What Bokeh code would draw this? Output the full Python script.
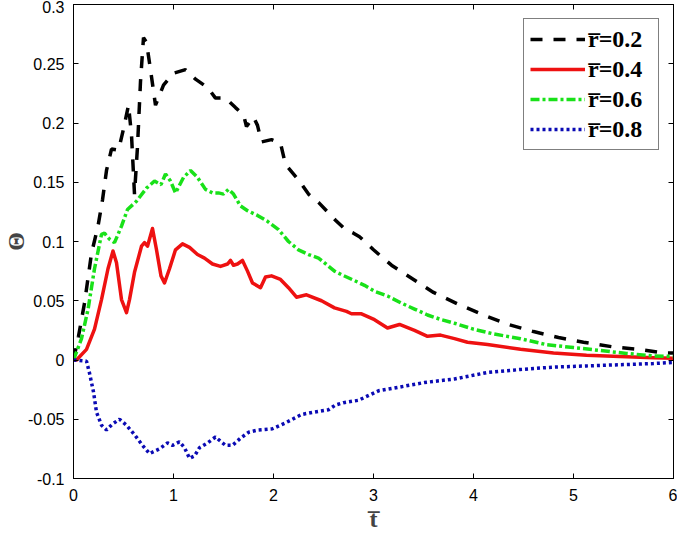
from bokeh.plotting import figure
from bokeh.models import Range1d, LinearAxis, FixedTicker, Legend, LegendItem
from bokeh.embed import file_html
from bokeh.resources import INLINE

# ---- data ----
t_k = [0, 0.05, 0.11, 0.18, 0.245, 0.29, 0.33, 0.38, 0.45, 0.5, 0.55, 0.58, 0.61, 0.64, 0.67,
       0.7, 0.73, 0.77, 0.82, 0.9, 1.0, 1.12, 1.22, 1.34, 1.42, 1.52, 1.62, 1.7, 1.73, 1.8,
       1.84, 1.88, 1.98, 2.07, 2.12, 2.25, 2.35, 2.45, 2.62, 2.72, 2.8, 2.86, 3.0, 3.18, 3.4,
       3.6, 3.85, 4.1, 4.35, 4.6, 4.85, 5.1, 5.4, 5.65, 5.9, 6.0]
th_k = [0, 0.02, 0.048, 0.09, 0.113, 0.135, 0.16, 0.178, 0.177, 0.195, 0.215, 0.19, 0.14, 0.18, 0.235,
        0.272, 0.268, 0.245, 0.215, 0.232, 0.242, 0.245, 0.237, 0.23, 0.221, 0.221, 0.213, 0.207, 0.197, 0.205,
        0.198, 0.184, 0.186, 0.183, 0.165, 0.152, 0.14, 0.133, 0.118, 0.11, 0.107, 0.104, 0.093, 0.08, 0.068,
        0.057, 0.047, 0.038, 0.03, 0.024, 0.019, 0.015, 0.011, 0.009, 0.006, 0.006]

t_r = [0, 0.03, 0.13, 0.21, 0.28, 0.345, 0.395, 0.43, 0.48, 0.53, 0.56, 0.61, 0.68, 0.71, 0.74,
       0.79, 0.83, 0.875, 0.91, 0.96, 1.02, 1.09, 1.16, 1.24, 1.31, 1.39, 1.47, 1.54, 1.57, 1.6,
       1.64, 1.69, 1.74, 1.79, 1.87, 1.92, 1.98, 2.07, 2.15, 2.23, 2.33, 2.48, 2.61, 2.73, 2.78,
       2.88, 3.01, 3.14, 3.26, 3.41, 3.54, 3.67, 3.81, 3.94, 4.14, 4.47, 4.8, 5.13, 5.46, 5.8, 6.0]
th_r = [0, 0, 0.009, 0.026, 0.051, 0.077, 0.092, 0.082, 0.051, 0.04, 0.051, 0.074, 0.096, 0.099, 0.096,
        0.111, 0.093, 0.071, 0.065, 0.077, 0.093, 0.098, 0.095, 0.089, 0.086, 0.081, 0.079, 0.081, 0.084, 0.08,
        0.081, 0.084, 0.075, 0.065, 0.061, 0.07, 0.071, 0.068, 0.061, 0.053, 0.055, 0.05, 0.044, 0.041, 0.039,
        0.039, 0.034, 0.027, 0.03, 0.025, 0.02, 0.021, 0.018, 0.015, 0.013, 0.009, 0.006, 0.004, 0.003, 0.002, 0.0015]

t_g = [0, 0.08, 0.146, 0.21, 0.28, 0.31, 0.36, 0.41, 0.48, 0.54, 0.63, 0.73, 0.81, 0.875, 0.92,
       0.97, 1.02, 1.1, 1.17, 1.24, 1.32, 1.39, 1.45, 1.5, 1.55, 1.6, 1.67, 1.74, 1.84, 1.94,
       2.05, 2.15, 2.25, 2.35, 2.45, 2.51, 2.61, 2.68, 2.81, 2.91, 3.01, 3.14, 3.28, 3.41, 3.54,
       3.68, 3.81, 4.0, 4.2, 4.47, 4.73, 5.0, 5.27, 5.53, 5.8, 6.0]
th_g = [0, 0.018, 0.043, 0.077, 0.106, 0.107, 0.102, 0.099, 0.113, 0.127, 0.134, 0.145, 0.151, 0.148, 0.157,
        0.151, 0.141, 0.154, 0.16, 0.154, 0.144, 0.141, 0.141, 0.14, 0.144, 0.14, 0.13, 0.126, 0.122, 0.117,
        0.11, 0.1, 0.093, 0.089, 0.086, 0.082, 0.075, 0.072, 0.067, 0.063, 0.058, 0.054, 0.048, 0.043, 0.038,
        0.034, 0.031, 0.026, 0.022, 0.018, 0.013, 0.0105, 0.008, 0.0055, 0.0035, 0.003]

t_u = [0, 0.13, 0.16, 0.2, 0.23, 0.28, 0.33, 0.39, 0.46, 0.53, 0.61, 0.69, 0.76, 0.86, 0.94,
       0.99, 1.06, 1.11, 1.16, 1.21, 1.26, 1.34, 1.42, 1.52, 1.59, 1.67, 1.75, 1.85, 1.99, 2.12,
       2.28, 2.4, 2.55, 2.62, 2.7, 2.85, 3.05, 3.25, 3.51, 3.81, 4.14, 4.47, 4.8, 5.13, 5.46, 5.8, 6.0]
th_u = [0, -0.001, -0.011, -0.027, -0.044, -0.055, -0.059, -0.054, -0.05, -0.055, -0.063, -0.072, -0.079, -0.075, -0.07,
        -0.072, -0.069, -0.074, -0.083, -0.081, -0.074, -0.07, -0.065, -0.072, -0.072, -0.066, -0.061, -0.059, -0.058, -0.053,
        -0.046, -0.044, -0.042, -0.038, -0.036, -0.034, -0.026, -0.023, -0.019, -0.016, -0.0105, -0.008, -0.006, -0.005, -0.004, -0.003, -0.002]

series_labels = ["r\u0305=0.2", "r\u0305=0.4", "r\u0305=0.6", "r\u0305=0.8"]
x_ticks = [0, 1, 2, 3, 4, 5, 6]
x_tick_labels = ["0", "1", "2", "3", "4", "5", "6"]
y_ticks = [-0.1, -0.05, 0, 0.05, 0.1, 0.15, 0.2, 0.25, 0.3]
y_tick_labels = ["-0.1", "-0.05", "0", "0.05", "0.1", "0.15", "0.2", "0.25", "0.3"]

SERIF = "Liberation Serif"
SANS = "Liberation Sans"

p = figure(width=677, height=538, output_backend="svg", toolbar_location=None,
           x_range=Range1d(0, 6), y_range=Range1d(-0.1, 0.3),
           min_border_left=69, min_border_right=4, min_border_top=4, min_border_bottom=60)
p.background_fill_color = "white"
p.border_fill_color = "white"
p.outline_line_color = "black"
p.outline_line_width = 1
p.xgrid.visible = False
p.ygrid.visible = False

r_k = p.line(t_k, th_k, line_color="black", line_width=3.5, line_dash="12 11")
r_r = p.line(t_r, th_r, line_color="#ee1111", line_width=3.5, line_join="round")
r_g = p.line(t_g, th_g, line_color="#19e119", line_width=3.5, line_dash="9 3 3 3")
r_u = p.line(t_u, th_u, line_color="#0a0ab4", line_width=3.5, line_dash="3 3")

def style_axis(ax, ticks, labels=None):
    ax.ticker = FixedTicker(ticks=ticks)
    ax.axis_line_color = "black"
    ax.major_tick_in = 5
    ax.major_tick_out = 0
    ax.minor_tick_in = 0
    ax.minor_tick_out = 0
    ax.major_tick_line_color = "black"
    ax.major_label_text_font = SANS
    ax.major_label_text_color = "black"
    if labels is None:
        ax.major_label_overrides = {t: "" for t in ticks}
        ax.major_label_text_font_size = "1px"
        ax.major_label_standoff = 0
    else:
        ax.major_label_overrides = dict(zip(ticks, labels))
        ax.major_label_text_font_size = "16px"

xa = p.xaxis[0]
style_axis(xa, x_ticks, x_tick_labels)
xa.major_label_standoff = 10
xa.axis_label = "t\u0305"
xa.axis_label_text_font = SERIF
xa.axis_label_text_font_style = "bold"
xa.axis_label_text_font_size = "24px"
xa.axis_label_standoff = 2

ya = p.yaxis[0]
style_axis(ya, y_ticks, y_tick_labels)
ya.major_label_standoff = 9
ya.axis_label = "\u0398"
ya.axis_label_text_font = SERIF
ya.axis_label_text_font_style = "bold"
ya.axis_label_text_font_size = "24px"
ya.axis_label_standoff = -4

top = LinearAxis()
style_axis(top, x_ticks)
p.add_layout(top, "above")
right = LinearAxis()
style_axis(right, y_ticks)
p.add_layout(right, "right")

legend = Legend(items=[LegendItem(label=series_labels[0], renderers=[r_k]),
                       LegendItem(label=series_labels[1], renderers=[r_r]),
                       LegendItem(label=series_labels[2], renderers=[r_g]),
                       LegendItem(label=series_labels[3], renderers=[r_u])],
                location="top_right", margin=14, padding=6, spacing=2,
                glyph_width=55, glyph_height=28, label_height=28, label_width=64,
                label_standoff=3,
                label_text_font=SERIF, label_text_font_style="bold",
                label_text_font_size="24px", label_text_color="black",
                border_line_color="black", border_line_width=1,
                background_fill_color="white", background_fill_alpha=1)
p.add_layout(legend, "center")

open("out.html", "w").write(file_html(p, INLINE))
